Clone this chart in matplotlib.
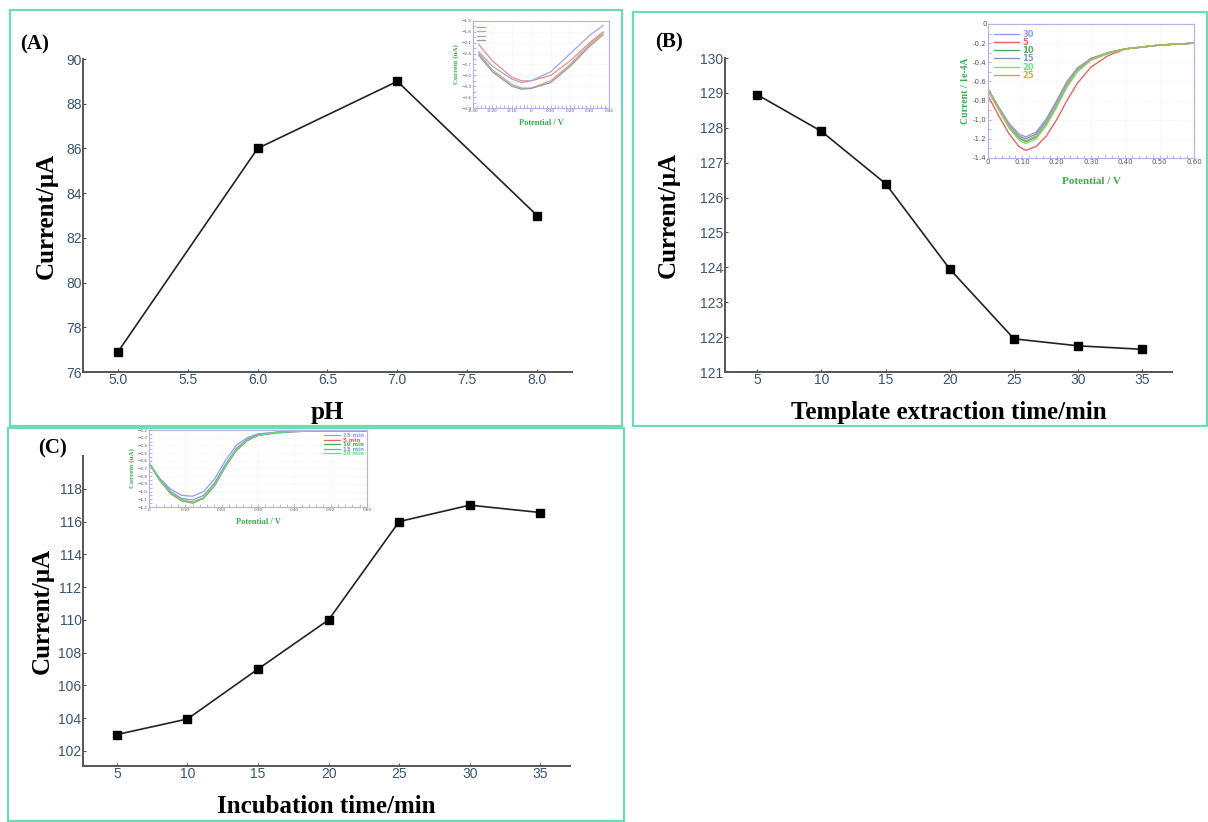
import matplotlib
matplotlib.use("Agg")
import matplotlib.pyplot as plt
from matplotlib.patches import Rectangle
from matplotlib.ticker import AutoMinorLocator

# --- main panel data ---
ph = [5.0, 6.0, 7.0, 8.0]
ph_current = [76.9, 86.0, 89.0, 83.0]

extract_time = [5, 10, 15, 20, 25, 30, 35]
extract_current = [128.95, 127.9, 126.4, 123.95, 121.95, 121.75, 121.65]

incub_time = [5, 10, 15, 20, 25, 30, 35]
incub_current = [103.0, 103.95, 107.0, 110.0, 116.0, 117.0, 116.55]

# --- inset (A): DPV curves ---
a_pot = [-0.27, -0.2, -0.1, -0.05, 0.0, 0.1, 0.2, 0.3, 0.37]
a_curves = {
    "red": [-2.15, -2.6, -3.05, -3.15, -3.15, -3.0, -2.6, -2.1, -1.8],
    "blue": [-2.35, -2.75, -3.1, -3.2, -3.15, -2.9, -2.4, -1.9, -1.62],
    "orange": [-2.4, -2.85, -3.25, -3.35, -3.35, -3.15, -2.7, -2.15, -1.82],
    "gray": [-2.45, -2.9, -3.3, -3.38, -3.36, -3.2, -2.75, -2.2, -1.88],
}
a_colors = {"red": "#f08a8a", "blue": "#9aa6f0", "orange": "#d9a070", "gray": "#8c9ab8"}

# --- inset (B) ---
b_pot = [0.0, 0.03, 0.06, 0.09, 0.11, 0.14, 0.17, 0.20, 0.23, 0.26, 0.30, 0.35, 0.40, 0.50, 0.60]
b_labels = ["30", "5", "10", "15", "20", "25"]
b_colors = ["#8f9cf5", "#f06060", "#4fae5c", "#8a96c8", "#6fe08a", "#c0b050"]
b_curves = [
    [-0.68, -0.86, -1.03, -1.15, -1.18, -1.13, -0.99, -0.80, -0.60, -0.46, -0.36, -0.30, -0.26, -0.22, -0.20],
    [-0.75, -0.95, -1.14, -1.28, -1.32, -1.28, -1.17, -1.00, -0.80, -0.62, -0.45, -0.33, -0.26, -0.22, -0.20],
    [-0.68, -0.88, -1.07, -1.19, -1.23, -1.18, -1.04, -0.85, -0.64, -0.49, -0.37, -0.30, -0.26, -0.22, -0.20],
    [-0.68, -0.87, -1.05, -1.17, -1.20, -1.15, -1.01, -0.82, -0.62, -0.47, -0.36, -0.30, -0.26, -0.22, -0.20],
    [-0.70, -0.89, -1.08, -1.21, -1.25, -1.20, -1.06, -0.87, -0.66, -0.50, -0.38, -0.31, -0.26, -0.22, -0.20],
    [-0.69, -0.88, -1.06, -1.18, -1.22, -1.17, -1.03, -0.84, -0.63, -0.48, -0.37, -0.30, -0.26, -0.22, -0.20],
]

# --- inset (C) ---
c_pot = [0.0, 0.03, 0.06, 0.09, 0.12, 0.15, 0.18, 0.21, 0.24, 0.27, 0.30, 0.35, 0.40, 0.50, 0.60]
c_labels = ["25 min", "5 min", "10 min", "15 min", "20 min"]
c_colors = ["#8f9cf5", "#f06060", "#4fae5c", "#8a96c8", "#5fe07a"]
c_curves = [
    [-0.63, -0.83, -0.97, -1.05, -1.06, -1.00, -0.84, -0.60, -0.40, -0.30, -0.25, -0.23, -0.22, -0.21, -0.21],
    [-0.63, -0.86, -1.03, -1.12, -1.15, -1.09, -0.93, -0.68, -0.47, -0.34, -0.27, -0.24, -0.22, -0.21, -0.21],
    [-0.63, -0.85, -1.02, -1.11, -1.14, -1.08, -0.92, -0.67, -0.46, -0.33, -0.27, -0.23, -0.22, -0.21, -0.21],
    [-0.63, -0.84, -1.00, -1.09, -1.11, -1.05, -0.89, -0.65, -0.44, -0.32, -0.26, -0.23, -0.22, -0.21, -0.21],
    [-0.63, -0.85, -1.02, -1.11, -1.14, -1.08, -0.92, -0.67, -0.46, -0.33, -0.27, -0.23, -0.22, -0.21, -0.21],
]

W, H = 1208, 822
fig = plt.figure(figsize=(W / 100, H / 100), dpi=100)

SERIF = "Liberation Serif"
SANS = "Liberation Sans"
TICK_COLOR = "#3a5570"
BORDER = "#6cdcb6"
GREEN = "#2db34a"


def px_rect(x0, y0, x1, y1):
    # pixel box (top-left origin) -> figure fraction [l, b, w, h]
    return [x0 / W, 1 - y1 / H, (x1 - x0) / W, (y1 - y0) / H]


# panel frames
for x0, y0, x1, y1 in [(10, 10, 622, 426), (633, 12, 1207, 426), (8, 428, 624, 821)]:
    l, b, w, h = px_rect(x0, y0, x1, y1)
    fig.add_artist(Rectangle((l, b), w, h, transform=fig.transFigure,
                             fill=False, edgecolor=BORDER, linewidth=1.6))


def style_main(ax, xlabel, ylabel, ylabelpad):
    for side in ["top", "right"]:
        ax.spines[side].set_visible(False)
    for side in ["left", "bottom"]:
        ax.spines[side].set_color("#555555")
        ax.spines[side].set_linewidth(1.4)
    ax.tick_params(direction="in", length=2, width=0.8, pad=1,
                   labelsize=10, labelcolor=TICK_COLOR, color="#555555")
    for lab in ax.get_xticklabels() + ax.get_yticklabels():
        lab.set_fontfamily(SANS)
    ax.set_xlabel(xlabel, fontsize=18, fontweight="bold", family=SERIF, labelpad=10)
    ax.set_ylabel(ylabel, fontsize=18, fontweight="bold", family=SERIF, labelpad=ylabelpad)


line_kw = dict(color="#222222", linewidth=1.2, marker="s", markersize=6,
               markerfacecolor="black", markeredgecolor="black")

# (A)
axA = fig.add_axes(px_rect(83, 59, 572, 372))
axA.plot(ph, ph_current, **line_kw)
axA.set_xlim(4.75, 8.25)
axA.set_ylim(76, 90)
axA.set_xticks([5.0, 5.5, 6.0, 6.5, 7.0, 7.5, 8.0])
axA.set_yticks(range(76, 91, 2))
axA.set_xticklabels(["%.1f" % v for v in axA.get_xticks()])
style_main(axA, "pH", "Current/μA", 6)

# (B)
axB = fig.add_axes(px_rect(725, 58, 1172, 372))
axB.plot(extract_time, extract_current, **line_kw)
axB.set_xlim(2.5, 37.3)
axB.set_ylim(121, 130)
axB.set_xticks(range(5, 36, 5))
axB.set_yticks(range(121, 131))
style_main(axB, "Template extraction time/min", "Current/μA", 15)

# (C)
axC = fig.add_axes(px_rect(83, 456, 570, 766))
axC.plot(incub_time, incub_current, **line_kw)
axC.set_xlim(2.6, 37.1)
axC.set_ylim(101.08, 120)
axC.set_xticks(range(5, 36, 5))
axC.set_yticks(range(102, 119, 2))
style_main(axC, "Incubation time/min", "Current/μA", 3)

for txt, x, y in [("(A)", 20, 44), ("(B)", 655, 42), ("(C)", 38, 448)]:
    fig.text(x / W, 1 - y / H, txt, fontsize=15, fontweight="bold", family=SERIF,
             va="center", ha="left")


def style_inset(ax, xlabel, ylabel, fs=4):
    for s in ax.spines.values():
        s.set_color("#b4b4e6")
        s.set_linewidth(0.9)
    ax.xaxis.set_minor_locator(AutoMinorLocator(5))
    ax.yaxis.set_minor_locator(AutoMinorLocator(2))
    ax.tick_params(which="both", direction="in", length=2, width=0.5, color="#9a9ade",
                   labelsize=fs, labelcolor="#555555", pad=1)
    ax.set_xlabel(xlabel, fontsize=fs + 3, fontweight="bold", family=SERIF, color=GREEN, labelpad=4)
    ax.set_ylabel(ylabel, fontsize=fs + 2, fontweight="bold", family=SERIF, color=GREEN, labelpad=2)
    ax.grid(True, linestyle=":", linewidth=0.4, color="#e2e2e2")


# inset A
inA = fig.add_axes(px_rect(473, 21, 609, 108))
for key, ys in a_curves.items():
    inA.plot(a_pot, ys, color=a_colors[key], linewidth=0.9)
inA.set_xlim(-0.30, 0.40)
inA.set_ylim(-3.9, -1.5)
inA.set_xticks([-0.3, -0.2, -0.1, 0, 0.1, 0.2, 0.3, 0.4])
inA.set_xticklabels(["-0.30", "-0.20", "-0.10", "0", "0.10", "0.20", "0.30", "0.40"])
inA.set_yticks([-3.9, -3.6, -3.3, -3.0, -2.7, -2.4, -2.1, -1.8, -1.5])
style_inset(inA, "Potential / V", "Current (uA)", fs=3)
inA.legend(["", "", "", ""], loc="upper left", fontsize=3, frameon=False,
           handlelength=2, borderaxespad=0.6, labelspacing=0.1)

# inset B
inB = fig.add_axes(px_rect(988, 24, 1194, 158))
for ys, c, lab in zip(b_curves, b_colors, b_labels):
    inB.plot(b_pot, ys, color=c, linewidth=1.0, label=lab)
inB.set_xlim(0, 0.6)
inB.set_ylim(-1.4, 0)
inB.set_xticks([0, 0.1, 0.2, 0.3, 0.4, 0.5, 0.6])
inB.set_xticklabels(["0", "0.10", "0.20", "0.30", "0.40", "0.50", "0.60"])
inB.set_yticks([-1.4, -1.2, -1.0, -0.8, -0.6, -0.4, -0.2, 0])
inB.set_yticklabels(["-1.4", "-1.2", "-1.0", "-0.8", "-0.6", "-0.4", "-0.2", "0"])
style_inset(inB, "Potential / V", "Current / 1e-4A", fs=5)
inB.xaxis.labelpad = 8
legB = inB.legend(loc="upper left", fontsize=6, frameon=False, handlelength=3,
                  borderaxespad=0.3, labelspacing=-0.1, handletextpad=0.4)
for t, c in zip(legB.get_texts(), b_colors):
    t.set_color(c)
    t.set_fontweight("bold")

# inset C
inC = fig.add_axes(px_rect(149, 430, 367, 507))
for ys, c, lab in zip(c_curves, c_colors, c_labels):
    inC.plot(c_pot, ys, color=c, linewidth=0.9, label=lab)
inC.set_xlim(0, 0.6)
inC.set_ylim(-1.2, -0.2)
inC.set_xticks([0, 0.1, 0.2, 0.3, 0.4, 0.5, 0.6])
inC.set_xticklabels(["0", "0.10", "0.20", "0.30", "0.40", "0.50", "0.60"])
inC.set_yticks([-1.2, -1.1, -1.0, -0.9, -0.8, -0.7, -0.6, -0.5, -0.4, -0.3, -0.2])
style_inset(inC, "Potential / V", "Current (uA)", fs=3)
legC = inC.legend(loc="upper right", fontsize=4, frameon=False, handlelength=3,
                  borderaxespad=0.2, labelspacing=-0.1, handletextpad=0.4)
for t, c in zip(legC.get_texts(), c_colors):
    t.set_color(c)
    t.set_fontweight("bold")

fig.savefig("out.png", dpi=100)
